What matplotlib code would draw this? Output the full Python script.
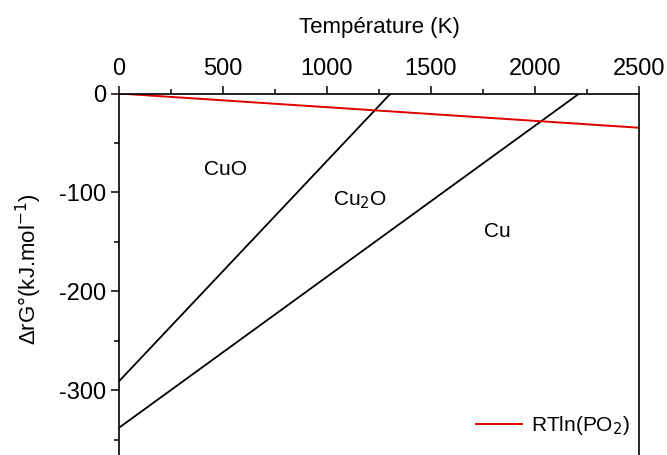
import numpy as np
import matplotlib
matplotlib.use('Agg')
import matplotlib.pyplot as plt
from matplotlib.ticker import MultipleLocator

plt.rcParams['font.family'] = ['Liberation Sans', 'DejaVu Sans']
plt.rcParams['axes.unicode_minus'] = False

# droites d'Ellingham
T_CuO = [0, 1306]
G_CuO = [-291, 0]
T_Cu2O = [0, 2213]
G_Cu2O = [-338, 0]
T_PO2 = [0, 2500]
G_PO2 = [0, -34.6]

fig = plt.figure(figsize=(6.67, 4.55), dpi=100)
ax = fig.add_axes([0.1784, -0.0097, 0.7796, 0.8042])

ax.plot(T_CuO, G_CuO, color='black', lw=1.3)
ax.plot(T_Cu2O, G_Cu2O, color='black', lw=1.3)
ax.plot(T_PO2, G_PO2, color='#e00000', lw=1.4, label='RTln(PO$_2$)')

ax.text(510, -77, 'CuO', fontsize=15, ha='center', va='center')
ax.text(1159, -108, 'Cu$_2$O', fontsize=15, ha='center', va='center')
ax.text(1817, -140, 'Cu', fontsize=15, ha='center', va='center')

ax.set_xlim(0, 2500)
ax.set_ylim(-370, 0)
ax.xaxis.tick_top()
ax.xaxis.set_label_position('top')
ax.set_xlabel('Température (K)', fontsize=16, labelpad=18)
ax.set_ylabel('ΔrG°(kJ.mol$^{-1}$)', fontsize=16)
ax.yaxis.set_label_coords(-0.145, 0.52)
ax.xaxis.set_major_locator(MultipleLocator(500))
ax.xaxis.set_minor_locator(MultipleLocator(250))
ax.yaxis.set_major_locator(MultipleLocator(100))
ax.yaxis.set_minor_locator(MultipleLocator(50))
ax.tick_params(which='major', direction='out', length=6, width=1.1, labelsize=17)
ax.tick_params(which='minor', direction='out', length=3.5, width=1.1)
for s in ax.spines.values():
    s.set_linewidth(1.2)

ax.legend(loc='center right', bbox_to_anchor=(0.972, 0.064),
          bbox_transform=fig.transFigure, frameon=False,
          fontsize=15, handlelength=2.2, handletextpad=0.4)

fig.savefig('out.png', dpi=100)
